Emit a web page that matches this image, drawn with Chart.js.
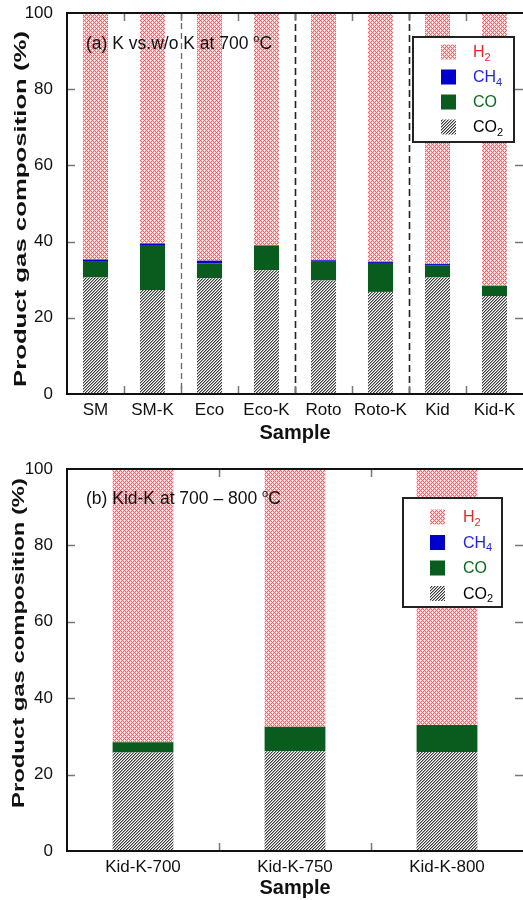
<!DOCTYPE html>
<html>
<head>
<meta charset="utf-8">
<script src="https://cdn.jsdelivr.net/npm/chart.js@4/dist/chart.umd.min.js"></script>
<style>
  html, body { margin: 0; padding: 0; background: #fff; }
  .wrap { width: 523px; height: 450px; position: relative; }
  canvas { display: block; }
</style>
</head>
<body>
<div class="wrap"><canvas id="chartA" width="523" height="450"></canvas></div>
<div class="wrap"><canvas id="chartB" width="523" height="450"></canvas></div>
<script>
// ---- Data ----
const seriesLabels = ['H2', 'CH4', 'CO', 'CO2'];

const categoriesA = ['SM', 'SM-K', 'Eco', 'Eco-K', 'Roto', 'Roto-K', 'Kid', 'Kid-K'];
const co2A = [30.6, 27.3, 30.4, 32.5, 29.8, 26.8, 30.6, 25.7];
const coA  = [4.3, 11.8, 3.9, 6.4, 4.9, 7.6, 3.2, 2.7];
const ch4A = [0.4, 0.4, 0.7, 0.1, 0.4, 0.3, 0.3, 0.0];
const h2A  = [64.7, 60.5, 65.0, 61.0, 64.9, 65.3, 65.9, 71.6];

const categoriesB = ['Kid-K-700', 'Kid-K-750', 'Kid-K-800'];
const co2B = [25.8, 26.1, 25.9];
const coB  = [2.7, 6.4, 7.1];
const ch4B = [0.0, 0.0, 0.0];
const h2B  = [71.5, 67.5, 67.0];

const yTicks = [0, 20, 40, 60, 80, 100];
const yTitle = 'Product gas composition (%)';
const xTitle = 'Sample';
const titleA = '(a) K vs.w/o K at 700 ';
const titleB = '(b) Kid-K at 700 \u2013 800 ';
const dividersA = [1.5, 3.5, 5.5]; // boundaries between sample pairs

// ---- Styles ----
const FONT = '"Liberation Sans", Arial, sans-serif';
const GREEN = '#0a5c1e';
const BLUE = '#0000cc';
const textColors = { H2: '#e8262a', CH4: '#2323e6', CO: '#0b6a1c', CO2: '#000000' };

function makeTile(kind) {
  const c = document.createElement('canvas');
  const n = kind === 'cross' ? 4 : 3;
  c.width = n; c.height = n;
  const ctx = c.getContext('2d');
  const img = ctx.createImageData(n, n);
  for (let y = 0; y < n; y++) {
    for (let x = 0; x < n; x++) {
      const i = (y * n + x) * 4;
      let r = 255, g = 255, b = 255;
      if (kind === 'cross') {
        const d1 = (x + y) % n === 0, d2 = ((x - y + n) % n) === 0;
        if (d1 || d2) { r = 236; g = 104; b = 104; }
        else if ((x + y) % n === 2 && ((x - y + n) % n) === 2) { r = 255; g = 255; b = 255; }
        else { r = 250; g = 200; b = 200; }
      } else {
        if ((x + y) % n === 0) { r = 60; g = 60; b = 60; }
        else if ((x + y) % n === 1) { r = 165; g = 165; b = 165; }
      }
      img.data[i] = r; img.data[i + 1] = g; img.data[i + 2] = b; img.data[i + 3] = 255;
    }
  }
  ctx.putImageData(img, 0, 0);
  return c;
}
function pattern(kind) {
  return document.createElement('canvas').getContext('2d').createPattern(makeTile(kind), 'repeat');
}
const H2P = pattern('cross');
const CO2P = pattern('hatch');

function datasets(co2, co, ch4, h2, bp) {
  const base = { categoryPercentage: 1.0, barPercentage: bp, borderWidth: 0, stack: 's' };
  return [
    Object.assign({ label: 'CO2', data: co2, backgroundColor: CO2P }, base),
    Object.assign({ label: 'CO', data: co, backgroundColor: GREEN }, base),
    Object.assign({ label: 'CH4', data: ch4, backgroundColor: BLUE }, base),
    Object.assign({ label: 'H2', data: h2, backgroundColor: H2P }, base),
  ];
}

function drawSubText(ctx, txt, x, y, size, color) {
  let cx = x;
  for (const ch of txt) {
    const isDigit = /[0-9]/.test(ch);
    ctx.font = (isDigit ? Math.round(size * 0.68) : size) + 'px ' + FONT;
    ctx.fillStyle = color;
    ctx.fillText(ch, cx, y + (isDigit ? size * 0.3 : 0));
    cx += ctx.measureText(ch).width;
  }
}

function framePlugin(opts) {
  return {
    id: 'frame',
    afterDatasetsDraw(chart) {
      const ctx = chart.ctx;
      const a = chart.chartArea;
      const xs = chart.scales.x, ys = chart.scales.y;
      ctx.save();
      (opts.dividers || []).forEach((d, i) => {
        const px = Math.round(xs.getPixelForValue(d)) + 0.5;
        ctx.beginPath();
        ctx.setLineDash(i === 0 ? [6, 4] : [7, 4]);
        ctx.strokeStyle = i === 0 ? '#666' : '#222';
        ctx.lineWidth = i === 0 ? 1.3 : 1.6;
        ctx.moveTo(px, a.top); ctx.lineTo(px, a.bottom);
        ctx.stroke();
      });
      ctx.setLineDash([]);
      ctx.strokeStyle = '#777';
      ctx.lineWidth = 1.5;
      const n = chart.data.labels.length;
      for (let i = 0; i < n - 1; i++) {
        const px = Math.round(xs.getPixelForValue(i + 0.5)) + 0.5;
        ctx.beginPath();
        ctx.moveTo(px, a.bottom); ctx.lineTo(px, a.bottom - 8);
        ctx.moveTo(px, a.top); ctx.lineTo(px, a.top + 8);
        ctx.stroke();
      }
      yTicks.slice(1, -1).forEach(v => {
        const py = Math.round(ys.getPixelForValue(v)) + 0.5;
        ctx.beginPath();
        ctx.moveTo(a.left, py); ctx.lineTo(a.left + 8, py);
        ctx.moveTo(a.right, py); ctx.lineTo(a.right - 8, py);
        ctx.stroke();
      });
      ctx.strokeStyle = '#111';
      ctx.lineWidth = 2;
      ctx.beginPath();
      ctx.moveTo(a.right, a.top); ctx.lineTo(a.left, a.top);
      ctx.lineTo(a.left, a.bottom); ctx.lineTo(a.right, a.bottom);
      ctx.stroke();
      // panel annotation
      ctx.fillStyle = '#111';
      ctx.font = opts.textSize + 'px ' + FONT;
      ctx.textBaseline = 'alphabetic';
      ctx.textAlign = 'left';
      const tx = opts.textX, ty = opts.textY;
      ctx.fillText(opts.title, tx, ty);
      let w = ctx.measureText(opts.title).width;
      ctx.font = '11px ' + FONT;
      ctx.fillText('o', tx + w, ty - 7);
      w += ctx.measureText('o').width;
      ctx.font = opts.textSize + 'px ' + FONT;
      ctx.fillText('C', tx + w, ty);
      // y-axis title (stretched along its length as in the reference)
      ctx.save();
      ctx.font = 'bold 17px ' + FONT;
      ctx.textAlign = 'center';
      ctx.textBaseline = 'middle';
      const tw = ctx.measureText(yTitle).width;
      ctx.translate(opts.yTitleX, opts.yTitleY);
      ctx.rotate(-Math.PI / 2);
      ctx.scale(opts.yTitleLen / tw, 1);
      ctx.fillStyle = '#111';
      ctx.fillText(yTitle, 0, 0);
      ctx.restore();
      // legend
      const L = opts.legend;
      ctx.fillStyle = '#fff';
      ctx.fillRect(L.x, L.y, L.w, L.h);
      ctx.strokeStyle = '#222';
      ctx.lineWidth = 2;
      ctx.strokeRect(L.x, L.y, L.w, L.h);
      ctx.textBaseline = 'middle';
      seriesLabels.forEach((lab, i) => {
        const ds = chart.data.datasets.find(d => d.label === lab);
        const cy = L.rowY + i * L.rowGap;
        ctx.fillStyle = ds.backgroundColor;
        ctx.fillRect(L.swX, cy - 7.5, 15, 15);
        drawSubText(ctx, lab, L.textX, cy + 1, 16, textColors[lab]);
      });
      ctx.restore();
    }
  };
}

function makeChart(id, labels, ds, padTop, xAxisH, opts) {
  return new Chart(document.getElementById(id), {
    type: 'bar',
    data: { labels: labels, datasets: ds },
    options: {
      responsive: false,
      animation: false,
      events: [],
      layout: { padding: { top: padTop, left: 0, right: 0, bottom: 0 } },
      plugins: { legend: { display: false }, tooltip: { enabled: false } },
      scales: {
        x: {
          stacked: true,
          offset: true,
          grid: { display: false, tickLength: 6 },
          border: { display: false },
          ticks: { color: '#111', font: { family: FONT, size: 17 }, padding: 0, maxRotation: 0, autoSkip: false },
          title: { display: true, text: xTitle, color: '#111', font: { family: FONT, size: 20, weight: 'bold' }, padding: { top: 0, bottom: opts.xTitlePad } },
          afterFit(s) { s.height = xAxisH; }
        },
        y: {
          stacked: true,
          min: 0, max: 100,
          afterBuildTicks(s) { s.ticks = yTicks.map(v => ({ value: v })); },
          grid: { display: false, tickLength: 14 },
          border: { display: false },
          ticks: { color: '#111', font: { family: FONT, size: 17 }, padding: 0 },
          title: { display: false },
          afterFit(s) { s.width = 67; }
        }
      }
    },
    plugins: [framePlugin(opts)]
  });
}

makeChart('chartA', categoriesA, datasets(co2A, coA, ch4A, h2A, 0.44), 13, 56, {
  dividers: dividersA,
  title: titleA, textX: 86, textY: 49, textSize: 17.5,
  xTitlePad: 5,
  yTitleX: 21, yTitleY: 209, yTitleLen: 356,
  legend: { x: 413, y: 37, w: 101, h: 105, rowY: 52, rowGap: 25, swX: 441, textX: 473 }
});

makeChart('chartB', categoriesB, datasets(co2B, coB, ch4B, h2B, 0.40), 19, 49, {
  dividers: [],
  title: titleB, textX: 86, textY: 54, textSize: 17.5,
  xTitlePad: 0,
  yTitleX: 19.5, yTitleY: 193, yTitleLen: 330,
  legend: { x: 403, y: 48, w: 99, h: 109, rowY: 67, rowGap: 25.5, swX: 430, textX: 463 }
});
</script>
</body>
</html>
